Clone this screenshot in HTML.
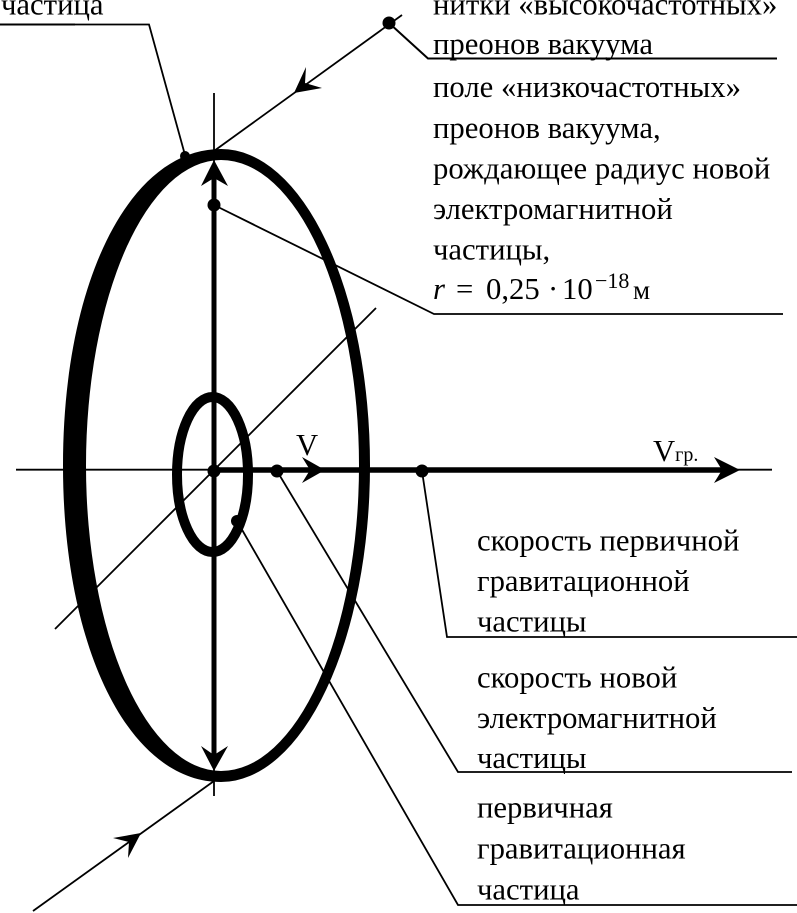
<!DOCTYPE html>
<html><head><meta charset="utf-8"><style>
html,body{margin:0;padding:0;background:#fff;width:797px;height:913px;overflow:hidden}
svg{display:block}
text{font-family:"Liberation Serif","Noto Serif CJK SC",serif;font-size:30.7px;fill:#000}
</style></head><body>
<svg width="797" height="913" viewBox="0 0 797 913" xmlns="http://www.w3.org/2000/svg">
<path fill-rule="evenodd" d="M221 149A149 316.5 0 0 1 370 465.5A149 316.5 0 0 1 221 782C129.4 782 63 649.1 63 465.5C63 281.9 129.4 149 221 149ZM221 160A138 305.5 0 0 1 359 465.5A138 305.5 0 0 1 221 771A135 305.5 0 0 1 86 465.5A135 305.5 0 0 1 221 160Z" fill="#000"/>
<ellipse cx="212.5" cy="474.5" rx="35.5" ry="77.5" fill="none" stroke="#000" stroke-width="10"/>
<g stroke="#000" fill="none" stroke-width="1.8">
<line x1="214" y1="93" x2="214" y2="796"/>
<line x1="16" y1="469.7" x2="772" y2="469.7"/>
<line x1="55" y1="629" x2="376" y2="308"/>
<line x1="402" y1="15" x2="214" y2="151"/>
<line x1="33" y1="911" x2="214" y2="781"/>
<polyline points="0,24.5 149,24.5 185,155"/>
<polyline points="389,23 428,58.5 777,58.5" stroke-width="2"/>
<polyline points="214,205 434,314 783,314"/>
<polyline points="277,471 458,772 792,772"/>
<polyline points="422,471 447,637 797,637"/>
<polyline points="237,521 458,905 797,905"/>
</g>
<line x1="0" y1="24.5" x2="75" y2="24.5" stroke="#000" stroke-width="2"/>
<line x1="214" y1="170" x2="214" y2="755" stroke="#000" stroke-width="5"/>
<line x1="214" y1="470" x2="725" y2="470" stroke="#000" stroke-width="5.5"/>
<g fill="#000">
<polygon points="214,160 228,186 214,178 201,186"/>
<polygon points="214,771 228,746 214,755 201,746"/>
<polygon points="325,470 302,457 310,470 302,483"/>
<polygon points="740,470 714,457 722,470 714,483"/>
<polygon points="294,93 322,88 305,83 306,67"/>
<polygon points="141,833 113,838 129,842 128,858"/>
<circle cx="185" cy="156" r="5"/>
<circle cx="389" cy="23" r="6.5"/>
<circle cx="214" cy="205" r="6.5"/>
<circle cx="214" cy="471" r="6.5"/>
<circle cx="277" cy="471" r="6.5"/>
<circle cx="422" cy="471" r="6.5"/>
<circle cx="237" cy="521" r="6"/>
</g>
<text x="1" y="14.5">частица</text>
<text x="433" y="14.5">нитки «высокочастотных»</text>
<text x="433" y="54">преонов вакуума</text>
<text x="433" y="97">поле «низкочастотных»</text>
<text x="433" y="138">преонов вакуума,</text>
<text x="433" y="178.5">рождающее радиус новой</text>
<text x="433" y="219">электромагнитной</text>
<text x="433" y="259.5">частицы,</text>
<text y="299"><tspan x="433" font-style="italic">r</tspan><tspan x="456">=</tspan><tspan x="486">0,25</tspan><tspan x="548">·</tspan><tspan x="562">10</tspan><tspan x="595" font-size="22" dy="-11">−18</tspan><tspan x="633" dy="11" font-size="27">м</tspan></text>
<text x="296" y="455">V</text>
<text x="653" y="461">V<tspan font-size="20">гр.</tspan></text>
<text x="477" y="550.5">скорость первичной</text>
<text x="477" y="591">гравитационной</text>
<text x="477" y="631.5">частицы</text>
<text x="477" y="687.5">скорость новой</text>
<text x="477" y="728">электромагнитной</text>
<text x="477" y="768">частицы</text>
<text x="477" y="817.5">первичная</text>
<text x="477" y="858.5">гравитационная</text>
<text x="477" y="899.5">частица</text>
</svg>
</body></html>
